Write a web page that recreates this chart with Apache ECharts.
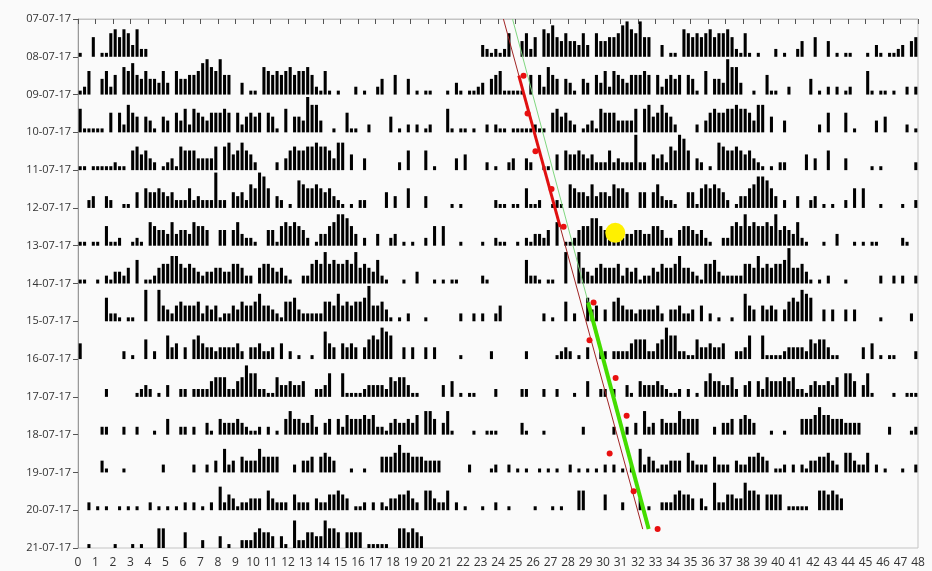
<!DOCTYPE html>
<html><head><meta charset="utf-8">
<script src="https://cdn.jsdelivr.net/npm/echarts/dist/echarts.min.js"></script>
<style>html,body{margin:0;padding:0;background:#fafafa}#c{width:932px;height:571px}</style>
</head><body><div id="c"></div><script>
// Y-axis date labels (row boundaries)
const dateLabels = ['07-07-17','08-07-17','09-07-17','10-07-17','11-07-17','12-07-17','13-07-17','14-07-17','15-07-17','16-07-17','17-07-17','18-07-17','19-07-17','20-07-17','21-07-17'];
// Activity per day: 24 hour groups of four quarter-hour bins, level 0-9
const day0  = "1005 0116 7576 3722 0000 0000 0000 0000 0000 0000 0000 0000 0000 0000 0000 0000 0000 0000 0000 0000 0000 0000 0000 3212";
const day1  = "1260 0462 5076 8546 4436 3064 4556 8976 9550 0301 1076 5656 7566 7521 6101 0002 0100 2400 5004 0101 1000 1031 0112 3045";
const day2  = "6111 1105 0527 5404 3104 3053 6265 4355 5650 5245 4505 4106 0443 9773 0010 0511 0020 0004 0102 0201 2000 6101 1010 0202";
const day3  = "1101 1111 2110 5645 3201 2316 5553 3336 0674 5754 2000 0203 5655 6676 6537 7040 0300 0000 0205 0005 0100 0030 4000 0201";
const day4  = "0023 0032 0011 0405 4454 3422 2523 2229 2204 3426 5985 0320 1076 5565 4532 1010 2200 0040 3005 0003 0000 0101 0000 0002";
const day5  = "1101 1051 1200 1210 6544 3634 4365 5400 4404 6322 1004 4156 5654 2013 3568 8753 0200 3002 3010 1002 0505 0001 0000 1002";
const day6  = "1100 1021 3324 0601 1245 5775 4543 2334 4335 5422 0455 4342 1002 2565 8565 5658 4543 6210 0010 0300 0101 0110 0000 2100";
const day7  = "0000 0062 2101 1008 0084 3245 4445 2434 1224 3544 5744 3215 5632 2222 5547 4545 5694 4531 0102 0001 0000 0002 0020 2002";
const day8  = "4000 0000 0020 1005 0200 6340 3056 4332 3333 4203 3422 3040 2010 0100 7430 4343 0356 5876 0030 3003 0300 0001 0000 0020";
const day9  = "0000 0020 0000 0123 2010 3002 2022 2245 5522 4586 6221 1533 4334 0022 3600 6111 1233 3325 4553 1100 0003 0401 0110 0002";
const day10 = "0000 0220 0020 0200 0100 4002 2020 0310 4333 4321 1202 0104 6443 3520 3404 2544 4545 2213 4334 3506 6403 6100 0010 0111";
const day11 = "0000 0310 0010 0000 0002 0000 0020 0203 0623 0433 3644 4400 0203 3404 5430 0010 0100 0444 5755 4443 3330 0000 0200 0012";
const day12 = "0020 1010 0101 0100 2010 1010 2020 1020 6243 1223 3305 3222 0422 2032 2445 4301 1202 0213 3445 3205 5322 5020 1000 1002";
const day13 = "0010 0000 1000 1010 0055 0000 4000 2000 3010 0222 4544 3031 0722 4433 7554 0444 4011 1110 0554 5430 0000 0000 0000 0000";
const days = [day0,day1,day2,day3,day4,day5,day6,day7,day8,day9,day10,day11,day12,day13];
// Onset markers (hour, row position)
const onsetHours = [25.46,25.69,26.14,27.06,27.75,29.46,29.23,30.72,31.35,30.38,31.75,33.12];
const onsetRows  = [1.5,2.5,3.5,4.5,5.5,7.5,8.5,9.5,10.5,11.5,12.5,13.5];
const redFit   = [[24.31,0],[32.27,13.5]];
const greenFit = [[24.83,0],[32.61,13.5]];
const redSeg   = [[25.19,1.5],[27.55,5.5]];
const greenSeg = [[29.15,7.5],[32.61,13.5]];
const yellowMark = [[30.7,5.66]];

const BIN = 0.25, LEVEL = 0.104;
const bars = [];
const nRows = dateLabels.length - 1;
for (let r = 0; r < nRows; r++) {
  [r, r + 1].forEach((d, half) => {
    if (d >= days.length) return;
    const s = days[d].replace(/ /g, '');
    for (let i = 0; i < s.length; i++) {
      const lv = +s[i];
      if (lv > 0) bars.push([half * 24 + i * BIN, r, lv]);
    }
  });
}
const onsets = onsetHours.map((h, i) => [h, onsetRows[i]]);

const chart = echarts.init(document.getElementById('c'), null, {renderer: 'canvas'});
const font = 'Open Sans';
chart.setOption({
  animation: false,
  backgroundColor: '#fafafa',
  grid: {left: 78, right: 14, top: 19, bottom: 23, show: true, borderColor: '#c4c4c4', borderWidth: 1},
  xAxis: {
    type: 'value', min: 0, max: 48, interval: 1, offset: 3,
    splitLine: {show: false},
    axisLine: {show: true, lineStyle: {color: '#c4c4c4'}},
    axisTick: {length: 5, lineStyle: {color: '#555'}},
    axisLabel: {margin: 6, fontSize: 12, color: '#333', fontFamily: font}
  },
  yAxis: {
    type: 'value', min: 0, max: 14, interval: 1, inverse: true,
    splitLine: {show: false},
    axisLine: {show: true, lineStyle: {color: '#999'}},
    axisTick: {length: 5, lineStyle: {color: '#555'}},
    axisLabel: {margin: 7, fontSize: 11, color: '#333', fontFamily: font, formatter: v => dateLabels[v] || ''}
  },
  series: [
    {
      type: 'custom', data: bars, z: 1,
      renderItem: function (params, api) {
        const x = api.value(0), row = api.value(1), lv = api.value(2);
        const base = api.coord([x, row + 1]);
        const top = api.coord([x, row + 1 - lv * LEVEL]);
        const w = api.size([BIN, 0])[0];
        return {type: 'rect', shape: {x: base[0] + w * 0.15, y: top[1], width: w * 0.7, height: base[1] - top[1]}, style: {fill: '#000'}};
      }
    },
    {type: 'line', data: redFit, showSymbol: false, lineStyle: {color: '#a02424', width: 1}, z: 3},
    {type: 'line', data: greenFit, showSymbol: false, lineStyle: {color: '#7fd67f', width: 1}, z: 3},
    {type: 'line', data: greenSeg, showSymbol: false, lineStyle: {color: '#44dd00', width: 4}, z: 4},
    {type: 'line', data: redSeg, showSymbol: false, lineStyle: {color: '#e01010', width: 3}, z: 4},
    {type: 'scatter', data: onsets, symbolSize: 6, itemStyle: {color: '#e81010', opacity: 1}, z: 5},
    {type: 'scatter', data: yellowMark, symbolSize: 20, itemStyle: {color: '#fff000', opacity: 1}, z: 6}
  ]
});
</script></body></html>
